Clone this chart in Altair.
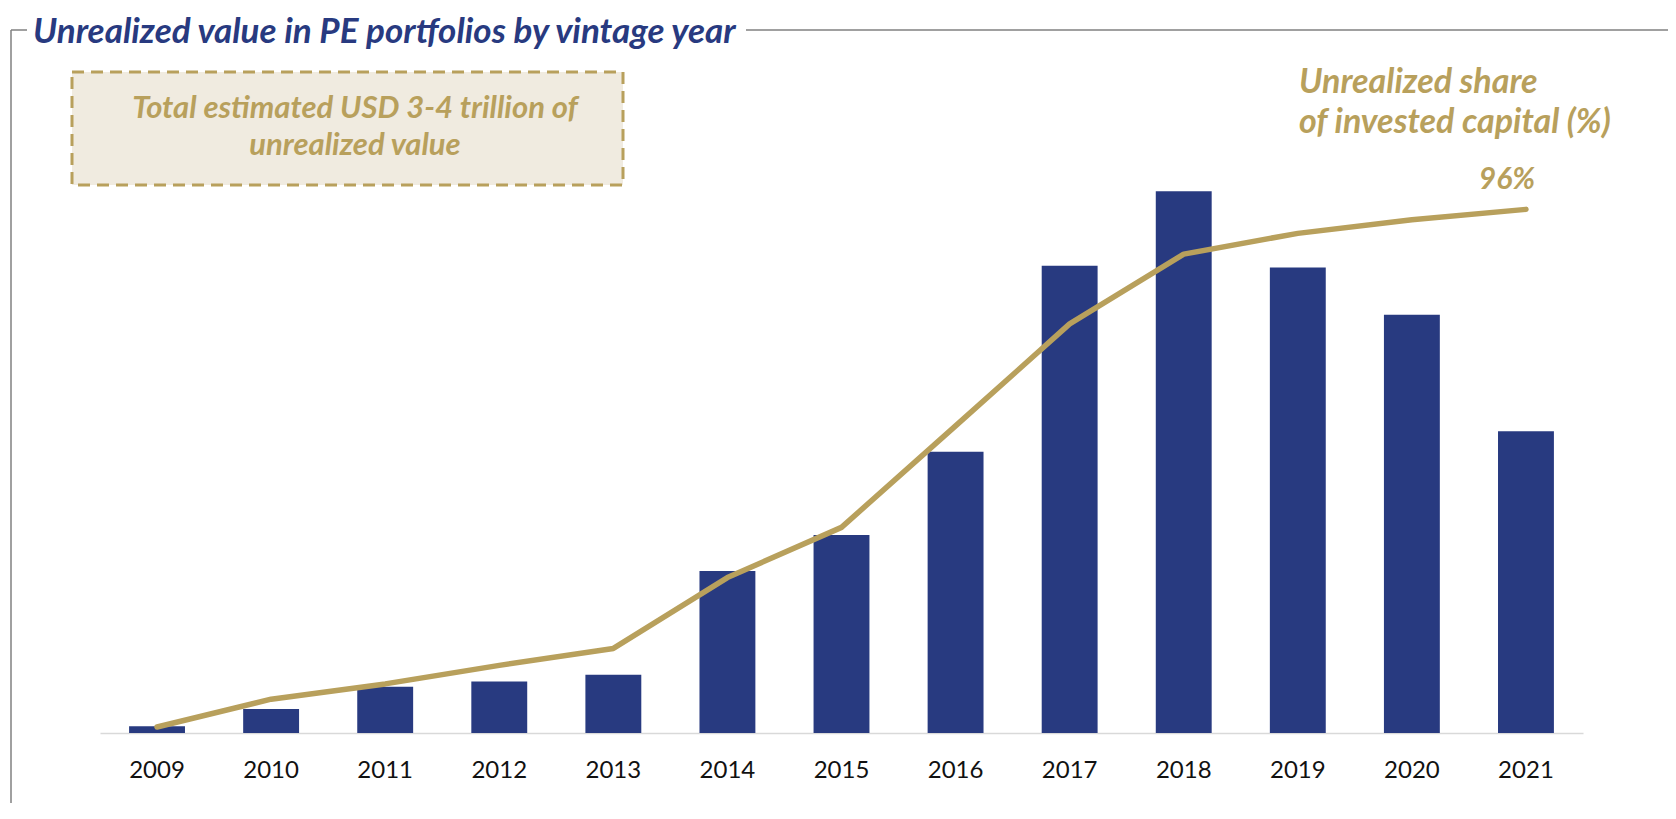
import altair as alt
import pandas as pd

# ---- data ----
years = [str(y) for y in range(2009, 2022)]
unrealized_value_bn = [8, 28, 54, 60, 68, 189, 231, 328, 545, 632, 543, 488, 352]
unrealized_share_pct = [1.1, 6.2, 9.0, 12.4, 15.5, 28.5, 37.7, 56.3, 75.0, 87.8, 91.6, 94.1, 96.0]

title_text = "Unrealized value in PE portfolios by vintage year"
box_lines = ["Total estimated USD 3-4 trillion of", "unrealized value"]
share_lines = ["Unrealized share", "of invested capital (%)"]

df = pd.DataFrame({"year": years, "value": unrealized_value_bn, "share": unrealized_share_pct})
df["label"] = df["share"].round(0).astype(int).astype(str) + "%"
last = df.tail(1)
one = pd.DataFrame({"k": [0]})

W, H = 1483, 600
NAVY = "#283a80"
GOLD = "#b8a05c"
FRAME = "#808080"
FONT = "Lato"

x_enc = alt.X(
    "year:O",
    sort=years,
    scale=alt.Scale(paddingInner=0.51, paddingOuter=0.255),
    axis=alt.Axis(
        title=None, labelAngle=0, ticks=False, grid=False,
        domainColor="#d9d9d9", domainWidth=1.5,
        labelFont=FONT, labelFontSize=24, labelColor="#111111", labelPadding=25,
    ),
)

bars = alt.Chart(df).mark_bar(color=NAVY).encode(
    x=x_enc,
    y=alt.Y("value:Q", scale=alt.Scale(domain=[0, 700]), axis=None),
)

line = alt.Chart(df).mark_line(color=GOLD, strokeWidth=5.5, strokeCap="round", strokeJoin="round").encode(
    x=x_enc,
    y=alt.Y("share:Q", scale=alt.Scale(domain=[0, 110]), axis=None),
)

end_label = alt.Chart(last).mark_text(
    font=FONT, fontSize=30, fontWeight="bold", fontStyle="italic", color=GOLD,
    align="center", baseline="middle", dx=-19, dy=-29,
).encode(
    x=x_enc,
    y=alt.Y("share:Q", scale=alt.Scale(domain=[0, 110]), axis=None),
    text="label:N",
)

def txt(t, xv, yv, align="left", color=GOLD, size=34):
    return alt.Chart(one).mark_text(
        text=t, font=FONT, fontSize=size, fontWeight="bold", fontStyle="italic",
        color=color, align=align, baseline="middle",
    ).encode(x=alt.value(xv), y=alt.value(yv))

def rule(x1, x2, y1, y2):
    return alt.Chart(one).mark_rule(color=FRAME, strokeWidth=1.5).encode(
        x=alt.value(x1), x2=alt.value(x2), y=alt.value(y1), y2=alt.value(y2)
    )

TOP = -103
frame = rule(-89, -89, TOP, 670) + rule(-89, -73, TOP, TOP) + rule(646, 1568, TOP, TOP)

title = alt.Chart(one).mark_text(
    text=title_text, font=FONT, fontSize=35, fontWeight="bold", fontStyle="italic",
    color=NAVY, align="left", baseline="alphabetic",
).encode(x=alt.value(-67), y=alt.value(-90))

box = alt.Chart(one).mark_rect(
    fill="#f0ebe0", stroke=GOLD, strokeWidth=3, strokeDash=[12, 7],
).encode(x=alt.value(-28), x2=alt.value(523), y=alt.value(-61), y2=alt.value(52))

box_text = txt(box_lines[0], 255, -24, align="center", size=31) + txt(box_lines[1], 255, 13, align="center", size=31)
share_text = txt(share_lines[0], 1199, -50) + txt(share_lines[1], 1199, -10)

chart = alt.layer(
    frame, title, box, box_text, share_text, bars, line, end_label
).resolve_scale(y="independent").properties(
    width=W, height=H,
    padding={"left": 92, "top": 125, "right": 85, "bottom": 70},
    autosize=alt.AutoSizeParams(type="none"),
    background="white",
).configure_view(stroke=None)

chart.save("out.html", embed_options={"renderer": "svg", "actions": False})
